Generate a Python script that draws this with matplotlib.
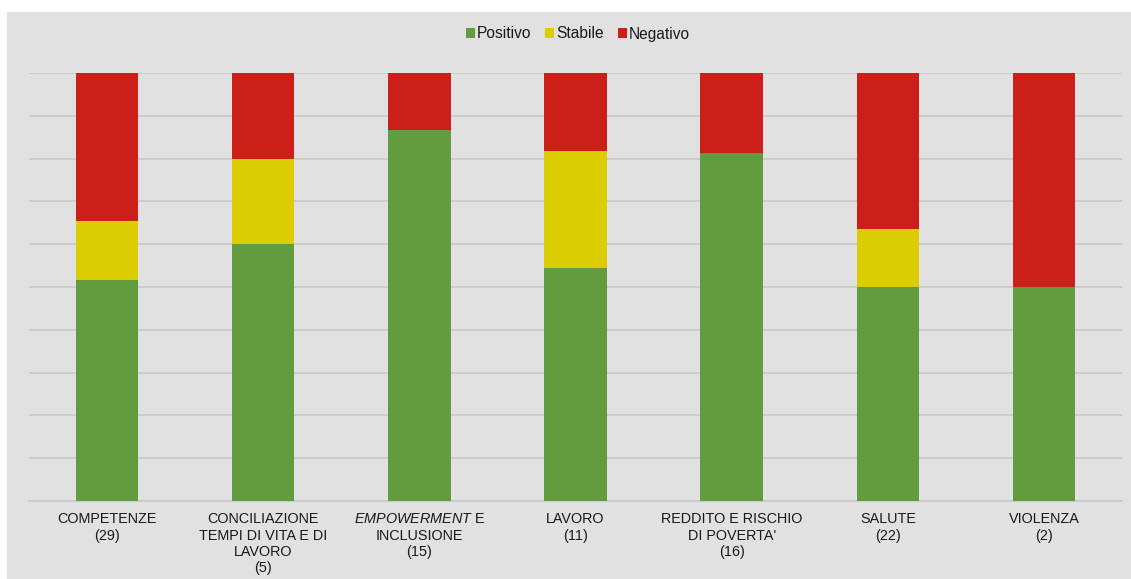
import matplotlib
matplotlib.use("Agg")
import matplotlib.pyplot as plt
from matplotlib.patches import Rectangle
import numpy as np

plt.rcParams['font.family'] = ['Liberation Sans', 'DejaVu Sans']
plt.rcParams['mathtext.fontset'] = 'custom'
plt.rcParams['mathtext.it'] = 'Liberation Sans:italic'
plt.rcParams['mathtext.rm'] = 'Liberation Sans'

categories = [
    "COMPETENZE\n(29)",
    "CONCILIAZIONE\nTEMPI DI VITA E DI\nLAVORO\n(5)",
    "$\\mathit{EMPOWERMENT}$ E\nINCLUSIONE\n(15)",
    "LAVORO\n(11)",
    "REDDITO E RISCHIO\nDI POVERTA'\n(16)",
    "SALUTE\n(22)",
    "VIOLENZA\n(2)",
]
positivo = [15, 3, 13, 6, 13, 11, 1]
stabile = [4, 1, 0, 3, 0, 3, 0]
negativo = [10, 1, 2, 2, 3, 8, 1]

series_names = ["Positivo", "Stabile", "Negativo"]
colors = ["#629c3e", "#dccd00", "#cc1f1a"]

W, H = 1131, 579
fig = plt.figure(figsize=(W / 100, H / 100), dpi=100)
fig.patch.set_facecolor("white")
fig.add_artist(Rectangle((7 / W, 0), (W - 7) / W, (H - 12) / H,
                         transform=fig.transFigure, facecolor="#e1e1e1",
                         edgecolor="none", zorder=0))

ax = fig.add_axes([29 / W, 78 / H, (1122 - 29) / W, (501 - 73) / H])
ax.set_facecolor("none")

pos = np.array(positivo, float)
sta = np.array(stabile, float)
neg = np.array(negativo, float)
tot = pos + sta + neg
shares = [pos / tot * 100, sta / tot * 100, neg / tot * 100]

x = np.arange(len(categories))
bottom = np.zeros(len(categories))
for name, vals, c in zip(series_names, shares, colors):
    ax.bar(x, vals, width=0.4, bottom=bottom, color=c, label=name, zorder=3)
    bottom += vals

ax.set_xlim(-0.5, len(categories) - 0.5)
ax.set_ylim(0, 100)
ax.set_yticks(np.arange(0, 101, 10))
ax.set_yticklabels([])
ax.tick_params(axis='y', length=0)
ax.grid(axis='y', color="#c8c8c8", linewidth=1.2, zorder=0)
ax.set_xticks(x)
ax.set_xticklabels(categories, fontsize=10.4, color="#1a1a1a", linespacing=1.22)
ax.tick_params(axis='x', length=0, pad=8)
for s in ["top", "right", "left"]:
    ax.spines[s].set_visible(False)
ax.spines["bottom"].set_color("#c8c8c8")
ax.spines["bottom"].set_linewidth(1.2)

leg = fig.legend(loc="center", bbox_to_anchor=(578 / W, 1 - 34 / H), ncol=3,
                 frameon=False, fontsize=11.2, handlelength=0.55, handleheight=0.55,
                 handletextpad=0.15, columnspacing=0.9)
for t in leg.get_texts():
    t.set_color("#1a1a1a")

fig.savefig("out.png", dpi=100, facecolor=fig.get_facecolor())
